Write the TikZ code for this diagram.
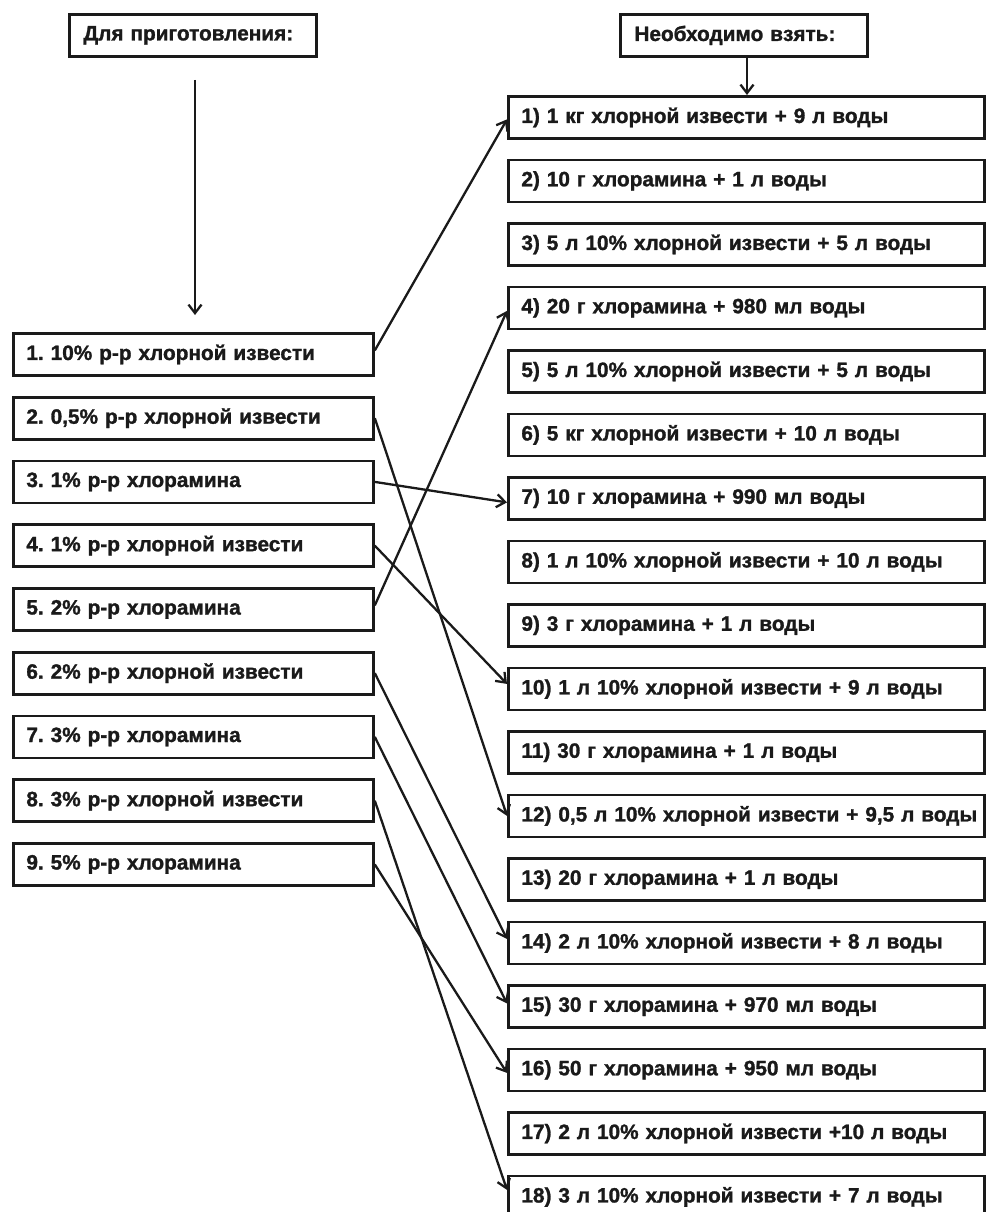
\documentclass[tikz,border=0pt]{standalone}
\usepackage{fontspec}
\setmainfont{Liberation Sans}[BoldFeatures={FakeBold=1.3}]
\usetikzlibrary{arrows.meta,positioning}
\definecolor{ink}{HTML}{1A1A1A}
\hfuzz=50pt
\tikzset{
  lbox/.style={draw=ink, line width=2.8pt, rectangle, anchor=north west, inner xsep=13pt, inner ysep=0pt,
    minimum height=42pt, text width=334pt, align=left, font=\fontsize{20.8}{23}\selectfont\bfseries\frenchspacing, text=ink},
  rbox/.style={lbox, text width=450pt},
  hbox/.style={lbox, text width=219pt, inner xsep=14pt},
  conn/.style={draw=ink, line width=2.3pt, -{Straight Barb[length=8.5pt,width=13pt,line width=2.3pt]}},
}
\begin{document}
\begin{tikzpicture}[x=1pt,y=-1pt]
\useasboundingbox (0,0) rectangle (985,1212);
\fill[white] (0,0) rectangle (985,1212);
% headers
\node[hbox] (h1) at (68,13) {Для приготовления:};
\node[hbox] (h2) at (619,13) {Необходимо взять:};
% left boxes
\foreach \i/\t in {1/{1. 10\% р-р хлорной извести},
                   2/{2. 0,5\% р-р хлорной извести},
                   3/{3. 1\% р-р хлорамина},
                   4/{4. 1\% р-р хлорной извести},
                   5/{5. 2\% р-р хлорамина},
                   6/{6. 2\% р-р хлорной извести},
                   7/{7. 3\% р-р хлорамина},
                   8/{8. 3\% р-р хлорной извести},
                   9/{9. 5\% р-р хлорамина}}
  \node[lbox] (l\i) at (12,{332+63.75*(\i-1)}) {\mbox{\t}};
% right boxes
\foreach \i/\t in {1/{1) 1 кг хлорной извести + 9 л воды},
                   2/{2) 10 г хлорамина + 1 л воды},
                   3/{3) 5 л 10\% хлорной извести + 5 л воды},
                   4/{4) 20 г хлорамина + 980 мл воды},
                   5/{5) 5 л 10\% хлорной извести + 5 л воды},
                   6/{6) 5 кг хлорной извести + 10 л воды},
                   7/{7) 10 г хлорамина + 990 мл воды},
                   8/{8) 1 л 10\% хлорной извести + 10 л воды},
                   9/{9) 3 г хлорамина + 1 л воды},
                   10/{10) 1 л 10\% хлорной извести + 9 л воды},
                   11/{11) 30 г хлорамина + 1 л воды},
                   12/{12) 0,5 л 10\% хлорной извести + 9,5 л воды},
                   13/{13) 20 г хлорамина + 1 л воды},
                   14/{14) 2 л 10\% хлорной извести + 8 л воды},
                   15/{15) 30 г хлорамина + 970 мл воды},
                   16/{16) 50 г хлорамина + 950 мл воды},
                   17/{17) 2 л 10\% хлорной извести +10 л воды},
                   18/{18) 3 л 10\% хлорной извести + 7 л воды}}
  \node[rbox] (r\i) at (507,{95+63.5*(\i-1)}) {\mbox{\t}};
% header arrows
\coordinate (la1) at (195,80);
\coordinate (la2) at (195,315);
\draw[conn] (la1) -- (la2);
\coordinate (ra1) at (h2.south -| 747,0);
\draw[conn] (ra1) -- (r1.north -| ra1);
% connectors
\draw[conn] ([yshift=4pt]l1.east) -- ([yshift=-2pt]r1.west);
\draw[conn] (l2.east) -- (r12.west);
\draw[conn] (l3.east) -- ([yshift=-4pt]r7.west);
\draw[conn] (l4.east) -- ([yshift=5pt]r10.west);
\draw[conn] ([yshift=4pt]l5.east) -- ([yshift=-3pt]r4.west);
\draw[conn] (l6.east) -- ([yshift=4pt]r14.west);
\draw[conn] (l7.east) -- ([yshift=3pt]r15.west);
\draw[conn] (l8.east) -- ([yshift=7pt]r18.west);
\draw[conn] (l9.east) -- ([yshift=-3pt]r16.west);
\end{tikzpicture}
\end{document}
